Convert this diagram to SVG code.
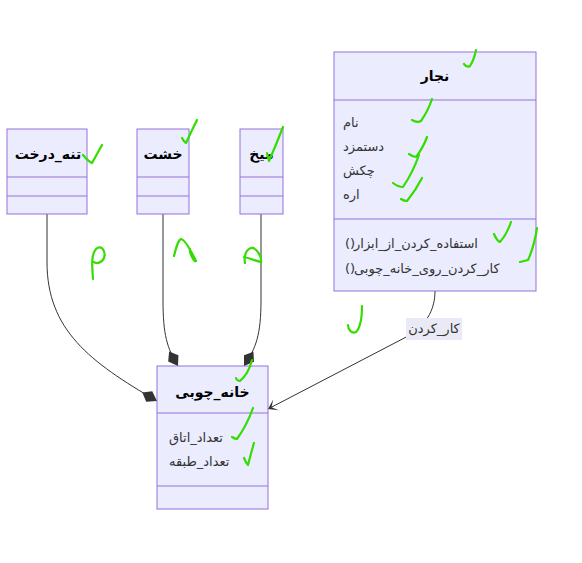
<svg xmlns="http://www.w3.org/2000/svg" width="582" height="563" viewBox="0 0 582 563">
<style>
.box{fill:#ECECFF;stroke:#9370DB;stroke-width:1}
.div{stroke:#9370DB;stroke-width:1}
.title{font-family:"DejaVu Sans",sans-serif;font-size:14px;font-weight:bold;fill:#000;text-anchor:middle}
.mem{font-family:"DejaVu Sans",sans-serif;font-size:13px;fill:#333}
.edge{fill:none;stroke:#333;stroke-width:1}
.lbl{font-family:"DejaVu Sans",sans-serif;font-size:13px;fill:#333;text-anchor:middle}
.chk{fill:none;stroke:#33dd00;stroke-width:2.2;stroke-linecap:round;stroke-linejoin:round}
</style>
<defs>
<marker id="comp" markerUnits="userSpaceOnUse" markerWidth="20" markerHeight="14" refX="18" refY="7" orient="auto">
<path d="M18,7 L9,13 L1,7 L9,1 Z" fill="#333"/>
</marker>
<marker id="dep" markerUnits="userSpaceOnUse" markerWidth="20" markerHeight="14" refX="18" refY="7" orient="auto">
<path d="M18,7 L9,13 L14,7 L9,1 Z" fill="#333"/>
</marker>
</defs>
<rect width="582" height="563" fill="#fff"/>
<g id="connectors">
<path class="edge" d="M47,214 V262 C47,330 90,362 157,401" marker-end="url(#comp)"/>
<path class="edge" d="M163,214 V300 C163,335 167,348 178,366" marker-end="url(#comp)"/>
<path class="edge" d="M261,214 V300 C261,335 256,348 244,366" marker-end="url(#comp)"/>
<path class="edge" d="M435,291 C435,308 428,322 412,334 L268,409" marker-end="url(#dep)"/>
<rect x="406" y="318" width="56" height="22" fill="#EAEAF6"/>
<text class="lbl" x="434" y="333">کار_کردن</text>
</g>
<g id="node-tane">
<rect class="box" x="7" y="129" width="80" height="85"/>
<line class="div" x1="7" y1="177" x2="87" y2="177"/>
<line class="div" x1="7" y1="196" x2="87" y2="196"/>
<text class="title" x="48" y="159">تنه_درخت</text>
</g>
<g id="node-khesht">
<rect class="box" x="137" y="129" width="52" height="85"/>
<line class="div" x1="137" y1="177" x2="189" y2="177"/>
<line class="div" x1="137" y1="196" x2="189" y2="196"/>
<text class="title" x="163" y="159">خشت</text>
</g>
<g id="node-mikh">
<rect class="box" x="240" y="129" width="43" height="85"/>
<line class="div" x1="240" y1="177" x2="283" y2="177"/>
<line class="div" x1="240" y1="196" x2="283" y2="196"/>
<text class="title" x="261.5" y="159">میخ</text>
</g>
<g id="node-najjar">
<rect class="box" x="334" y="52" width="202" height="239"/>
<line class="div" x1="334" y1="100" x2="536" y2="100"/>
<line class="div" x1="334" y1="219" x2="536" y2="219"/>
<text class="title" x="435" y="81">نجار</text>
<text class="mem" x="343" y="127">نام</text>
<text class="mem" x="343" y="151">دستمزد</text>
<text class="mem" x="343" y="175">چکش</text>
<text class="mem" x="343" y="199">اره</text>
<text class="mem" x="345" y="248">()</text>
<text class="mem" x="354" y="248">استفاده_کردن_از_ابزار</text>
<text class="mem" x="345" y="273">()</text>
<text class="mem" x="354" y="273">کار_کردن_روی_خانه_چوبی</text>
</g>
<g id="node-khane">
<rect class="box" x="157" y="366" width="111" height="143"/>
<line class="div" x1="157" y1="413" x2="268" y2="413"/>
<line class="div" x1="157" y1="486" x2="268" y2="486"/>
<text class="title" x="212.5" y="397">خانه_چوبی</text>
<text class="mem" x="169" y="442">تعداد_اتاق</text>
<text class="mem" x="169" y="466">تعداد_طبقه</text>
</g>
<g id="marks">
<path class="chk" d="M464,64 Q467,68 470,66 Q474,60 476,50"/>
<path class="chk" d="M412,120 Q417,123 421,121 Q428,111 432,99"/>
<path class="chk" d="M409,154 Q413,157 416,157 Q423,148 427,137"/>
<path class="chk" d="M393,183 Q398,187 403,187 Q413,172 419,155"/>
<path class="chk" d="M401,199 Q404,201 407,201 Q416,190 422,178"/>
<path class="chk" d="M494,234 Q497,241 500,242 Q507,234 511,222"/>
<path class="chk" d="M520,262 Q524,261 528,260 Q534,247 537,228"/>
<path class="chk" d="M83,155 Q88,161 92,163 Q97,154 102,145"/>
<path class="chk" d="M182,138 Q184,142 186,143 Q191,132 197,120"/>
<path class="chk" d="M267,153 Q268,158 269,161 Q276,145 283,127"/>
<path class="chk" d="M93,279 C92,265 91,255 96,249 C102,244 106,252 104,258 C102,263 96,264 94,262"/>
<path class="chk" d="M174,256 C176,248 178,240 181,239 C186,240 193,255 196,261 C194,263 189,252 190,249"/>
<path class="chk" d="M245,263 C244,258 245,250 251,248 C257,247 262,258 261,262 C256,261 249,258 244,257"/>
<path class="chk" d="M362,306 C362,318 360,328 356,332 C352,334 348,330 348,325"/>
<path class="chk" d="M252,360 C250,368 246,376 240,381 C238,381 236,379 236,378"/>
<path class="chk" d="M232,437 Q235,439 237,439 Q247,425 253,408"/>
<path class="chk" d="M244,458 Q246,463 248,465 Q251,453 254,443"/>
</g>
</svg>
